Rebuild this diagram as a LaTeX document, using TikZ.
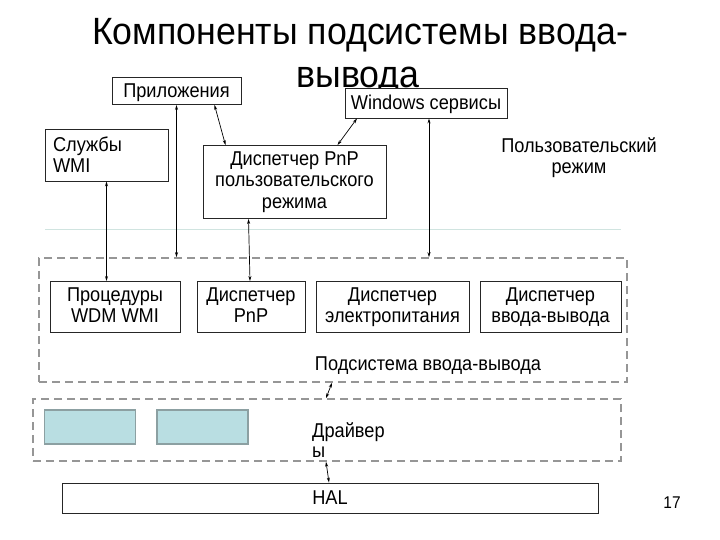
\documentclass[tikz,border=0pt]{standalone}
\usepackage{fontspec}
\setmainfont{Liberation Sans}
\newfontfamily\narrowf[FakeStretch=0.91]{Liberation Sans}
\newfontfamily\titlef[FakeStretch=0.94]{Liberation Sans}
\usetikzlibrary{arrows.meta}
\definecolor{dashgray}{RGB}{150,150,150}
\definecolor{faint}{RGB}{208,228,224}
\definecolor{drvfill}{RGB}{185,222,226}
\definecolor{drvdraw}{RGB}{140,160,162}
\tikzset{
  box/.style={draw=black!85, line width=0.9pt, fill=white, inner sep=0pt, align=center,
    font=\narrowf\fontsize{20}{21.5}\selectfont,
    execute at begin node={\rule{0pt}{18pt}}, execute at end node={\vphantom{р}}},
  dbox/.style={draw=dashgray, line width=1.6pt, dash pattern=on 8pt off 5pt, inner sep=0pt},
  drv/.style={draw=drvdraw, fill=drvfill, line width=1.5pt, inner sep=0pt,
    minimum width=91pt, minimum height=34pt},
  arr/.style={{Stealth[length=5pt,width=3pt]}-{Stealth[length=5pt,width=3pt]}, line width=0.7pt, black},
  lbl/.style={font=\narrowf\fontsize{20}{21.5}\selectfont, inner sep=0pt, align=center}
}
\begin{document}
\begin{tikzpicture}[x=1pt,y=-1pt]
\useasboundingbox (0,0) rectangle (720,540);
% title
\node[font=\titlef\fontsize{38}{43}\selectfont, anchor=base, inner sep=0pt] (t1) at (360,45) {Компоненты подсистемы ввода-};
\node[font=\titlef\fontsize{38}{43}\selectfont, anchor=base, inner sep=0pt] (t2) at (358,88) {вывода};
% faint separator
\draw[faint, line width=1pt] (45,230) coordinate (f1) -- (621,230) coordinate (f2);
% dashed groups
\node[dbox, minimum width=588pt, minimum height=124pt] (io) at (333,320) {};
\node[dbox, minimum width=588pt, minimum height=62pt] (drvbox) at (327,430) {};
% user mode boxes
\node[box, minimum width=129pt, minimum height=27pt] (app) at (176.5,91) {Приложения};
\node[box, minimum width=162pt, minimum height=30pt] (wins) at (426,103) {Windows сервисы};
\node[box, minimum width=123pt, minimum height=52pt, text width=107pt, align=left, inner xsep=8pt] (wmi) at (106.5,155) {Службы\\WMI};
\node[box, minimum width=183pt, minimum height=73pt] (pnpu) at (294.5,182) {Диспетчер PnP\\пользовательского\\режима};
\node[lbl] (um) at (579,157.5) {Пользовательский\\режим};
% kernel boxes
\node[box, minimum width=130pt, minimum height=51pt] (wdm) at (115,307) {Процедуры\\WDM WMI};
\node[box, minimum width=108pt, minimum height=51pt] (pnp) at (251,307) {Диспетчер\\PnP};
\node[box, minimum width=153pt, minimum height=51pt] (pwr) at (392.5,307) {Диспетчер\\электропитания};
\node[box, minimum width=141pt, minimum height=51pt] (iom) at (550.5,307) {Диспетчер\\ввода-вывода};
\node[lbl, anchor=base] (iol) at (428,370) {Подсистема ввода-вывода};
% drivers
\node[drv] (d1) at (90,427) {};
\node[drv] (d2) at (202.5,427) {};
\node[lbl, anchor=north west, align=left, font=\narrowf\fontsize{20}{20}\selectfont] (drl) at (312,422) {Драйвер\\ы};
% HAL
\node[box, minimum width=536pt, minimum height=30pt] (hal) at (330,498) {HAL};
\node[font=\narrowf\fontsize{17}{17}\selectfont, inner sep=0pt] (pg) at (672,503) {17};
% connectors
\draw[arr] (wmi.south) -- (wmi.south |- wdm.north);
\draw[arr] (app.south) -- (app.south |- io.north);
\draw[arr] ([xshift=38pt]app.south) -- ([xshift=-69pt]pnpu.north);
\draw[arr] ([xshift=-69pt]wins.south) -- ([xshift=43pt]pnpu.north);
\draw[arr] ([xshift=3pt]wins.south) -- ([xshift=3pt]wins.south |- io.north);
\draw[arr] ([xshift=-46pt]pnpu.south) -- ([xshift=-1pt]pnp.north);
\draw[arr] ([xshift=-1pt]io.south) -- ([xshift=-1pt]drvbox.north);
\draw[arr] ([xshift=-1pt]drvbox.south) -- ([xshift=-1pt]hal.north);
\end{tikzpicture}
\end{document}
